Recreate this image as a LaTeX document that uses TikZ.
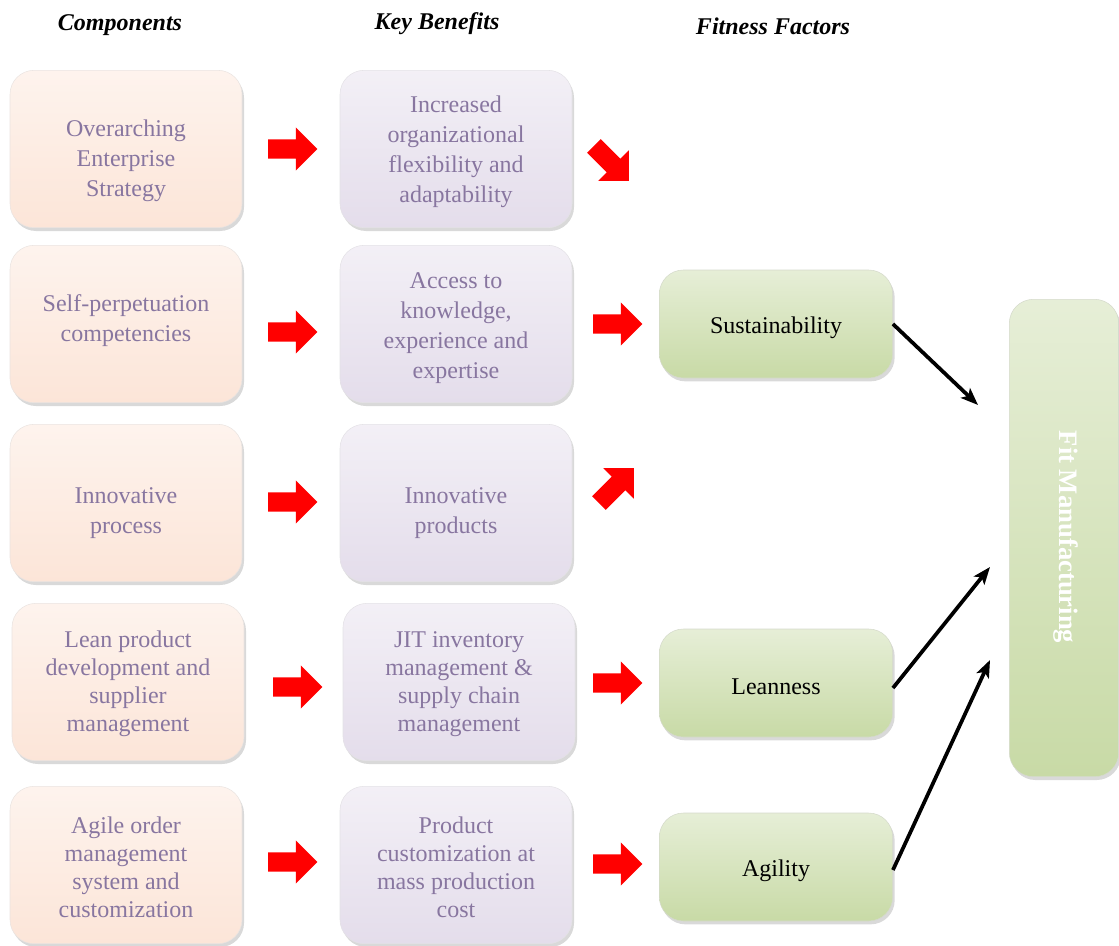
\documentclass[tikz,border=0pt]{standalone}
\usepackage{fontspec}
\setmainfont{Liberation Serif}
\usetikzlibrary{shapes.arrows, shadows, arrows.meta, calc}

\definecolor{pinkbox}{RGB}{252,229,216}
\definecolor{lilacbox}{RGB}{228,221,235}
\definecolor{greenbox}{RGB}{200,218,166}
\definecolor{boxtext}{RGB}{136,118,160}

\newcommand\bWidth{174pt}
\newcommand\bHeigh{118pt}
\newcommand\fWidth{175pt}
\newcommand\fHeigh{81pt}
\newcommand\bigfont{\fontsize{18}{22.5}\selectfont}
\newcommand\tightfont{\fontsize{18}{21}\selectfont}
\newcommand\lowered[1]{\raisebox{-3pt}[\height][\depth]{#1}}

\tikzstyle{base} = [rectangle, rounded corners=18pt, align=center, font=\bigfont, drop shadow={opacity=0.3, shadow xshift=1.5pt, shadow yshift=-2.5pt}]
\tikzstyle{comp} = [base, minimum width=\bWidth, minimum height=\bHeigh, top color=pinkbox!45!white, bottom color=pinkbox, draw=pinkbox!60!gray!40]
\tikzstyle{bene} = [base, minimum width=\bWidth, minimum height=\bHeigh, top color=lilacbox!45!white, bottom color=lilacbox, draw=lilacbox!60!gray!40]
\tikzstyle{fact} = [base, minimum width=\fWidth, minimum height=\fHeigh, text=black, top color=greenbox!45!white, bottom color=greenbox, draw=greenbox!60!gray!50]
\tikzstyle{boxtxt} = [align=center, font=\bigfont, text=boxtext]
\tikzstyle{tighttxt} = [align=center, font=\tightfont, text=boxtext]
\tikzstyle{head} = [font=\bigfont\bfseries\itshape]
\tikzstyle{redarrow} = [single arrow, fill=red, draw=none, inner xsep=0pt, inner ysep=7pt, minimum height=37pt, minimum width=32pt, single arrow head extend=9pt]
\tikzstyle{arrow} = [line width=2.8pt,-{Stealth[length=13pt,width=10pt,inset=3pt]}]

\begin{document}
\begin{tikzpicture}[x=0.75pt, y=-0.75pt]
\useasboundingbox (0,0) rectangle (1119,945);

\node (hcomp) [head] at (120,25) {Components};
\node (hbene) [head] at (437,24) {Key Benefits};
\node (hfact) [head] at (773,26) {Fitness Factors};

% components
\node (c1) [comp] at (126,149) {};
\node (c2) [comp] at (126,324) {};
\node (c3) [comp] at (126,503) {};
\node (c4) [comp] at (128,682) {};
\node (c5) [comp] at (126,865) {};
\node (c1t) [boxtxt] at (126,161) {Overarching\\ Enterprise\\ Strategy};
\node (c2t) [boxtxt] at (126,321) {Self-perpetuation\\ competencies};
\node (c3t) [boxtxt] at (126,513) {Innovative\\ process};
\node (c4t) [tighttxt] at (128,684) {Lean product\\ development and\\ supplier\\ management};
\node (c5t) [tighttxt] at (126,867) {Agile order\\ management\\ system and\\ customization};

% key benefits
\node (b1) [bene] at (456,149) {};
\node (b2) [bene] at (456,324) {};
\node (b3) [bene] at (456,503) {};
\node (b4) [bene] at (459,682) {};
\node (b5) [bene] at (456,865) {};
\node (b1t) [boxtxt] at (456,152) {Increased\\ organizational\\ flexibility and\\ adaptability};
\node (b2t) [boxtxt] at (456,328) {Access to\\ knowledge,\\ experience and\\ expertise};
\node (b3t) [boxtxt] at (456,513) {Innovative\\ products};
\node (b4t) [tighttxt] at (459,684) {JIT inventory\\ management \&\\ supply chain\\ management};
\node (b5t) [tighttxt] at (456,867) {Product\\ customization at\\ mass production\\ cost};

% fitness factors
\node (sust) [fact] at (776,324) {\lowered{Sustainability}};
\node (lean) [fact] at (776,683) {\lowered{Leanness}};
\node (agil) [fact] at (776,867) {\lowered{Agility}};
\node (fit) [base, minimum width=82pt, minimum height=358pt, top color=greenbox!45!white, bottom color=greenbox, draw=greenbox!60!gray!50] at (1064,538) {};
\node (fitlabel) [rotate=-90, font=\fontsize{20}{24}\selectfont\bfseries, text=white] at (1066,537) {Fit Manufacturing};

% red block arrows
\node (ra1) [redarrow] at (288,149) {};
\node (ra2) [redarrow] at (288,332) {};
\node (ra3) [redarrow] at (288,502) {};
\node (ra4) [redarrow] at (293,687) {};
\node (ra5) [redarrow] at (288,862) {};
\node (rb1) [redarrow, rotate=-45] at (608,160) {};
\node (rb2) [redarrow] at (613,324) {};
\node (rb3) [redarrow, rotate=45] at (613,489) {};
\node (rb4) [redarrow] at (613,683) {};
\node (rb5) [redarrow] at (613,864) {};

\coordinate (in1) at (978,405);
\coordinate (in2) at (990,567);
\coordinate (in3) at (990,660);
\draw [arrow] (sust.east) -- (in1);
\draw [arrow] ($(lean.east)+(0,5)$) -- (in2);
\draw [arrow] ($(agil.east)+(0,3)$) -- (in3);

\end{tikzpicture}
\end{document}
